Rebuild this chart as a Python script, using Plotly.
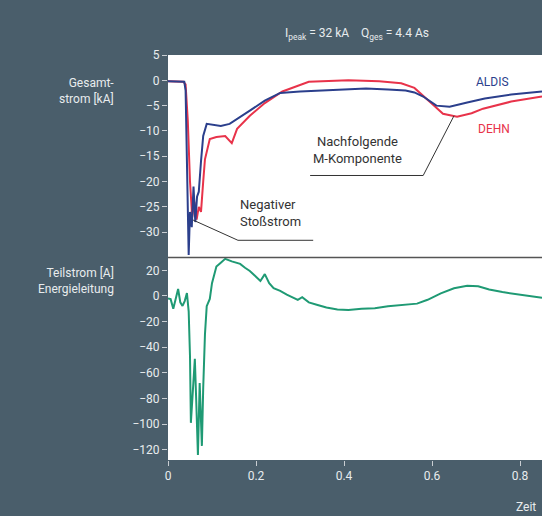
import plotly.graph_objects as go
from plotly.subplots import make_subplots

# ---- data ----
aldis_t = [0.0, 0.037, 0.040, 0.043, 0.047, 0.050, 0.054, 0.058, 0.062, 0.066, 0.070, 0.075, 0.080, 0.088, 0.100, 0.120, 0.140, 0.160, 0.186, 0.220, 0.255, 0.300, 0.340, 0.400, 0.450, 0.500, 0.540, 0.560, 0.580, 0.610, 0.640, 0.680, 0.720, 0.780, 0.850]
aldis_i = [-0.2, -0.3, -2.0, -18.0, -34.5, -26.0, -29.0, -21.0, -28.0, -23.0, -22.0, -16.0, -11.0, -8.6, -8.8, -9.0, -8.6, -7.5, -6.0, -4.0, -2.5, -2.2, -2.0, -1.8, -1.6, -1.8, -2.0, -2.4, -3.2, -5.0, -5.2, -4.4, -3.6, -2.8, -2.2]

dehn_t = [0.0, 0.035, 0.040, 0.045, 0.050, 0.055, 0.060, 0.065, 0.070, 0.075, 0.080, 0.084, 0.095, 0.110, 0.130, 0.145, 0.157, 0.186, 0.220, 0.260, 0.320, 0.410, 0.480, 0.530, 0.560, 0.580, 0.605, 0.625, 0.657, 0.690, 0.716, 0.780, 0.850]
dehn_i = [-0.2, -0.3, -0.8, -8.0, -20.0, -27.0, -24.0, -27.5, -25.0, -26.0, -20.0, -15.6, -11.6, -11.2, -11.0, -12.4, -9.6, -7.0, -4.5, -2.2, -0.3, 0.0, -0.2, -0.6, -1.5, -3.0, -5.0, -6.6, -7.2, -6.5, -5.6, -4.2, -3.2]

teil_t = [0.0, 0.006, 0.012, 0.018, 0.023, 0.028, 0.033, 0.038, 0.043, 0.047, 0.050, 0.052, 0.057, 0.061, 0.064, 0.068, 0.072, 0.077, 0.080, 0.084, 0.088, 0.095, 0.100, 0.110, 0.120, 0.130, 0.145, 0.164, 0.175, 0.186, 0.197, 0.210, 0.220, 0.230, 0.240, 0.255, 0.270, 0.285, 0.295, 0.305, 0.320, 0.340, 0.360, 0.385, 0.410, 0.440, 0.470, 0.500, 0.530, 0.566, 0.590, 0.620, 0.650, 0.680, 0.705, 0.730, 0.760, 0.790, 0.820, 0.850]
teil_i = [-2.0, -2.5, -10.0, -2.0, 5.4, -5.0, -7.8, -4.0, 2.3, -12.0, -47.0, -99.0, -68.0, -49.0, -80.0, -124.0, -68.0, -117.0, -72.0, -30.0, -8.0, -2.3, 10.0, 23.0, 26.0, 29.0, 27.0, 25.0, 22.0, 19.5, 16.0, 11.7, 17.0, 10.0, 6.0, 4.0, 1.0, -1.5, -3.0, -1.0, -5.0, -7.0, -9.0, -10.5, -11.0, -10.0, -9.5, -8.0, -7.0, -6.0, -3.0, 2.0, 6.0, 8.0, 7.5, 5.0, 3.0, 1.5, 0.0, -1.5]

x_ticks = [0, 0.2, 0.4, 0.6, 0.8]
x_ticklabels = ["0", "0.2", "0.4", "0.6", "0.8"]
top_ticks = [5, 0, -5, -10, -15, -20, -25, -30]
bot_ticks = [20, 0, -20, -40, -60, -80, -100, -120]

BG = "rgb(74,94,107)"
TXT = "rgb(232,236,238)"
FONT = "Liberation Sans Narrow, Roboto, Arial"
NAVY = "#2b3f8c"
RED = "#e8334a"
GREEN = "#1f9a74"

fig = make_subplots(rows=2, cols=1, shared_xaxes=True, vertical_spacing=0)

fig.add_trace(go.Scatter(x=dehn_t, y=dehn_i, mode="lines", line=dict(color=RED, width=2), name="DEHN"), row=1, col=1)
fig.add_trace(go.Scatter(x=aldis_t, y=aldis_i, mode="lines", line=dict(color=NAVY, width=2), name="ALDIS"), row=1, col=1)
fig.add_trace(go.Scatter(x=teil_t, y=teil_i, mode="lines", line=dict(color=GREEN, width=2), name="Teilstrom"), row=2, col=1)

axis_common = dict(showgrid=False, zeroline=False, ticks="outside", ticklen=5, tickcolor="rgb(200,205,210)",
                   tickfont=dict(family=FONT, size=12, color=TXT), showline=False)

fig.update_xaxes(range=[0, 0.85], tickvals=x_ticks, ticktext=x_ticklabels, **axis_common)
fig.update_xaxes(showticklabels=False, ticks="", row=1, col=1)
fig.update_yaxes(range=[-35, 5], tickvals=top_ticks, row=1, col=1, **axis_common)
fig.update_yaxes(range=[-128, 30], tickvals=bot_ticks, row=2, col=1, **axis_common)

shapes = [
    dict(type="line", xref="x", yref="y", x0=0.323, y0=-18.8, x1=0.58, y1=-18.8, line=dict(color="#333", width=1)),
    dict(type="line", xref="x", yref="y", x0=0.58, y0=-18.8, x1=0.65, y1=-7.0, line=dict(color="#333", width=1)),
    dict(type="line", xref="x", yref="y", x0=0.159, y0=-31.6, x1=0.33, y1=-31.6, line=dict(color="#333", width=1)),
    dict(type="line", xref="x", yref="y", x0=0.159, y0=-31.6, x1=0.057, y1=-27.6, line=dict(color="#333", width=1)),
    dict(type="line", xref="paper", yref="paper", x0=0, y0=0.5, x1=1, y1=0.5, line=dict(color="#555", width=1.5)),
]

annots = [
    dict(x=0.78, y=-0.4, xref="x", yref="y", text="ALDIS", showarrow=False, xanchor="right",
         font=dict(family=FONT, size=12, color=NAVY)),
    dict(x=0.782, y=-9.6, xref="x", yref="y", text="DEHN", showarrow=False, xanchor="right",
         font=dict(family=FONT, size=12, color=RED)),
    dict(x=0.43, y=-13.8, xref="x", yref="y", text="Nachfolgende<br>M-Komponente", showarrow=False,
         align="center", font=dict(family=FONT, size=13, color="#333")),
    dict(x=0.159, y=-26.3, xref="x", yref="y", text="Negativer<br>Stoßstrom", showarrow=False,
         xanchor="left", align="left", font=dict(family=FONT, size=13, color="#333")),
]

W, H = 542, 516
ml, mr, mt, mb = 168, 0, 55, 56
def paper(xp, yp):
    return (xp - ml) / (W - ml - mr), (H - mb - yp) / (H - mt - mb)

for txt, xp, yp in [
    ("Gesamt-<br>strom [kA]", 116, 74),
    ("Teilstrom [A]<br>Energieleitung", 116, 281),
]:
    xx, yy = paper(xp, yp)
    annots.append(dict(x=xx, y=yy, xref="paper", yref="paper", text=txt, showarrow=False, xanchor="right",
                       align="right", font=dict(family=FONT, size=12, color=TXT)))

xx, yy = paper(357, 24)
annots.append(dict(x=xx, y=yy, xref="paper", yref="paper",
                   text="I<sub>peak</sub> = 32 kA    Q<sub>ges</sub> = 4.4 As", showarrow=False,
                   font=dict(family=FONT, size=12, color=TXT)))
xx, yy = paper(526, 516)
annots.append(dict(x=xx, y=yy, xref="paper", yref="paper", text="Zeit", showarrow=False,
                   xanchor="center", yanchor="bottom",
                   font=dict(family=FONT, size=12, color=TXT)))

fig.update_layout(
    width=W, height=H, margin=dict(l=ml, r=mr, t=mt, b=mb),
    paper_bgcolor=BG, plot_bgcolor="white", showlegend=False,
    shapes=shapes, annotations=annots,
)

fig.write_html("out.html", config={"displayModeBar": False},
               post_script="document.body.style.margin='0';document.body.style.overflow='hidden';"
                           "document.body.style.background='rgb(74,94,107)';")
